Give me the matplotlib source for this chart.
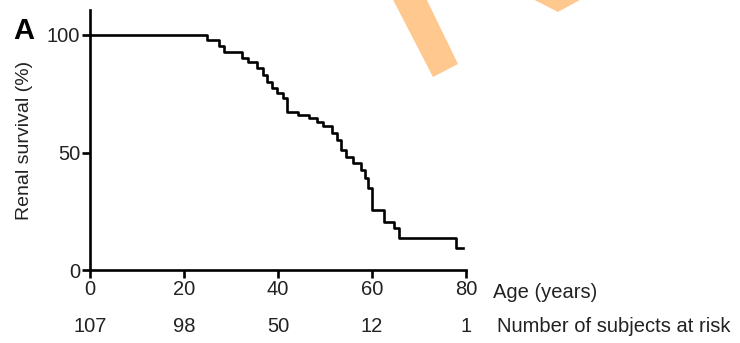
import matplotlib.pyplot as plt
from matplotlib.patches import Polygon

plt.rcParams['font.family'] = ['Liberation Sans', 'DejaVu Sans']

# Kaplan-Meier steps (age in years, renal survival % after the step)
event_age = [0, 24.9, 27.5, 28.5, 32.3, 33.6, 35.5, 36.8, 37.7, 38.7, 39.8, 41.0,
             41.9, 44.3, 46.5, 48.2, 49.5, 51.5, 52.5, 53.5, 54.5, 56.0, 57.7,
             58.6, 59.2, 60.0, 62.6, 64.7, 65.7, 77.9, 79.3]
survival = [100, 98, 95.5, 92.8, 90.2, 88.5, 86, 83, 80, 77.4, 75.3, 73.2,
            67.2, 66, 64.5, 63, 61.3, 58.3, 55.3, 51, 48, 45.5, 42.5,
            39, 35, 25.5, 20.4, 17.9, 13.6, 9.4, 9.4]

age_ticks = [0, 20, 40, 60, 80]
at_risk = ['107', '98', '50', '12', '1']

W, H = 740, 343
fs = 14.5
txt = '#222222'
fig = plt.figure(figsize=(W / 100, H / 100), dpi=100)

# axes placed in pixel terms
left, right, bottom, top = 90, 466, 270, 10
ax = fig.add_axes([left / W, (H - bottom) / H, (right - left) / W, (bottom - top) / H])

ax.step(event_age, survival, where='post', color='black', lw=1.9)

ax.set_xlim(0, 80)
ax.set_ylim(0, (bottom - top) / 2.35)
ax.set_xticks(age_ticks)
ax.set_yticks([0, 50, 100])
for s in ['top', 'right']:
    ax.spines[s].set_visible(False)
for s in ['left', 'bottom']:
    ax.spines[s].set_linewidth(1.9)
ax.tick_params(width=1.9, length=5.5, direction='out', labelsize=fs,
               labelcolor=txt, pad=1.5)

# text outside the axes
fig.text(25 / W, 1 - 140 / H, 'Renal survival (%)', fontsize=14, color=txt,
         rotation=90, ha='center', va='center')
fig.text(493 / W, 1 - 293 / H, 'Age (years)', fontsize=fs, color=txt,
         ha='left', va='center')
for a, n in zip(age_ticks, at_risk):
    xp = left + (right - left) * a / 80
    fig.text(xp / W, 1 - 327 / H, n, fontsize=fs, color=txt,
             ha='center', va='center')
fig.text(497 / W, 1 - 327 / H, 'Number of subjects at risk', fontsize=fs,
         color=txt, ha='left', va='center')
fig.text(13 / W, 1 - 31 / H, 'A', fontsize=21, fontweight='bold', ha='left', va='center')

# orange marks at the top
orange = '#ffc88e'
for pts in ([(388, -10), (422, -10), (458, 64), (433, 77)],
            [(515, -10), (558, 12), (598, -10)]):
    fig.patches.append(Polygon([(x / W, 1 - y / H) for x, y in pts],
                               closed=True, transform=fig.transFigure,
                               facecolor=orange, edgecolor='none', zorder=5))

fig.savefig('out.png', dpi=100)
